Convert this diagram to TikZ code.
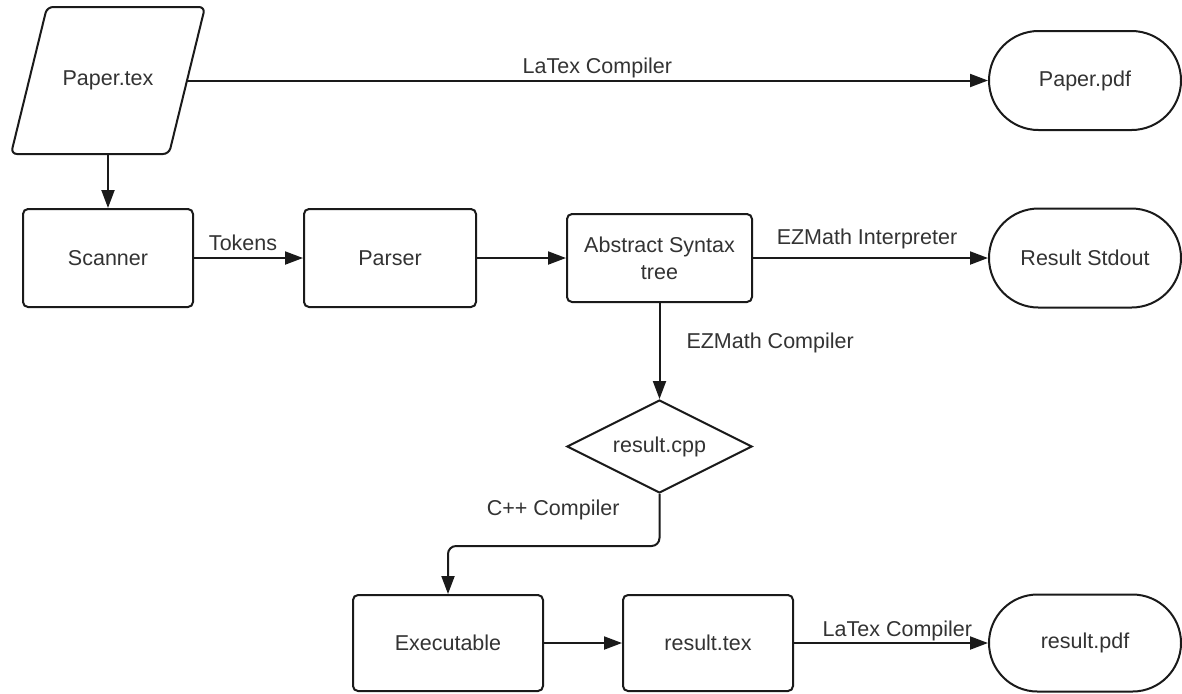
\documentclass[tikz,border=0pt]{standalone}
\usepackage{fontspec}
\setmainfont{Liberation Sans}
\usetikzlibrary{arrows.meta,shapes.geometric,shapes.misc}
\definecolor{ln}{HTML}{1A1A1A}
\definecolor{txt}{HTML}{333333}
\begin{document}
\begin{tikzpicture}[x=0.5pt,y=-0.5pt,
  every node/.style={font=\fontsize{10.75}{13.5}\selectfont, text=txt},
  box/.style={draw=ln, line width=1pt, rounded corners=2.5pt, inner sep=0, align=center},
  term/.style={draw=ln, line width=1pt, rounded rectangle, minimum width=96pt, minimum height=49.5pt, inner sep=0},
  arr/.style={draw=ln, line width=1pt, -{Triangle[length=9pt,width=6.5pt]}},
  lbl/.style={anchor=base, inner sep=0}]
\fill[white] (0,0) rectangle (1182,693);
\useasboundingbox (0,0) rectangle (1182,693);

% parallelogram for Paper.tex
\draw[draw=ln, line width=1pt, rounded corners=3pt] (47,7) -- (205,7) -- (169,154) -- (11,154) -- cycle;
\node[minimum width=79pt, minimum height=73.5pt, inner sep=0] (ptex) at (108,80.5) {Paper.tex};
\node[term] (ppdf) at (1085,80.5) {Paper.pdf};
\node[box, minimum width=85pt, minimum height=49pt] (scanner) at (108,258) {Scanner};
\node[box, minimum width=86pt, minimum height=49pt] (parser) at (390,258) {Parser};
\node[box, minimum width=92.5pt, minimum height=44pt] (ast) at (659.5,258) {Abstract Syntax\\tree};
\node[term] (stdout) at (1085,258) {Result Stdout};
\node[diamond, shape aspect=2, draw=ln, line width=1pt, minimum width=92.5pt, minimum height=46.5pt, inner sep=0]
      (cpp) at (659.5,446.5) {result.cpp};
\node[box, minimum width=95pt, minimum height=48pt] (exec) at (448,643) {Executable};
\node[box, minimum width=85pt, minimum height=48pt] (rtex) at (708,643) {result.tex};
\node[term, minimum height=48.5pt] (rpdf) at (1085,643) {result.pdf};

\draw[arr] (ptex) -- node[lbl, pos=0.512, yshift=3.5pt] {LaTex Compiler} (ppdf);
\draw[arr] (ptex) -- (scanner);
\draw[arr] (scanner) -- node[lbl, pos=0.45, yshift=4pt] {Tokens} (parser);
\draw[arr] (parser) -- (ast);
\draw[arr] (ast) -- node[lbl, pos=0.485, yshift=7pt] {EZMath Interpreter} (stdout);
\draw[arr] (ast) -- node[anchor=base west, inner sep=0, xshift=13pt, yshift=1.5pt] {EZMath Compiler} (cpp);
\draw[arr, rounded corners=4pt] (cpp.south) -- node[anchor=base east, inner sep=0, xshift=-19.5pt, yshift=2.5pt] {C++ Compiler} ++(0,52) -| (exec);
\draw[arr] (exec) -- (rtex);
\draw[arr] (rtex) -- node[lbl, pos=0.533, yshift=3.5pt] {LaTex Compiler} (rpdf);
\end{tikzpicture}
\end{document}
